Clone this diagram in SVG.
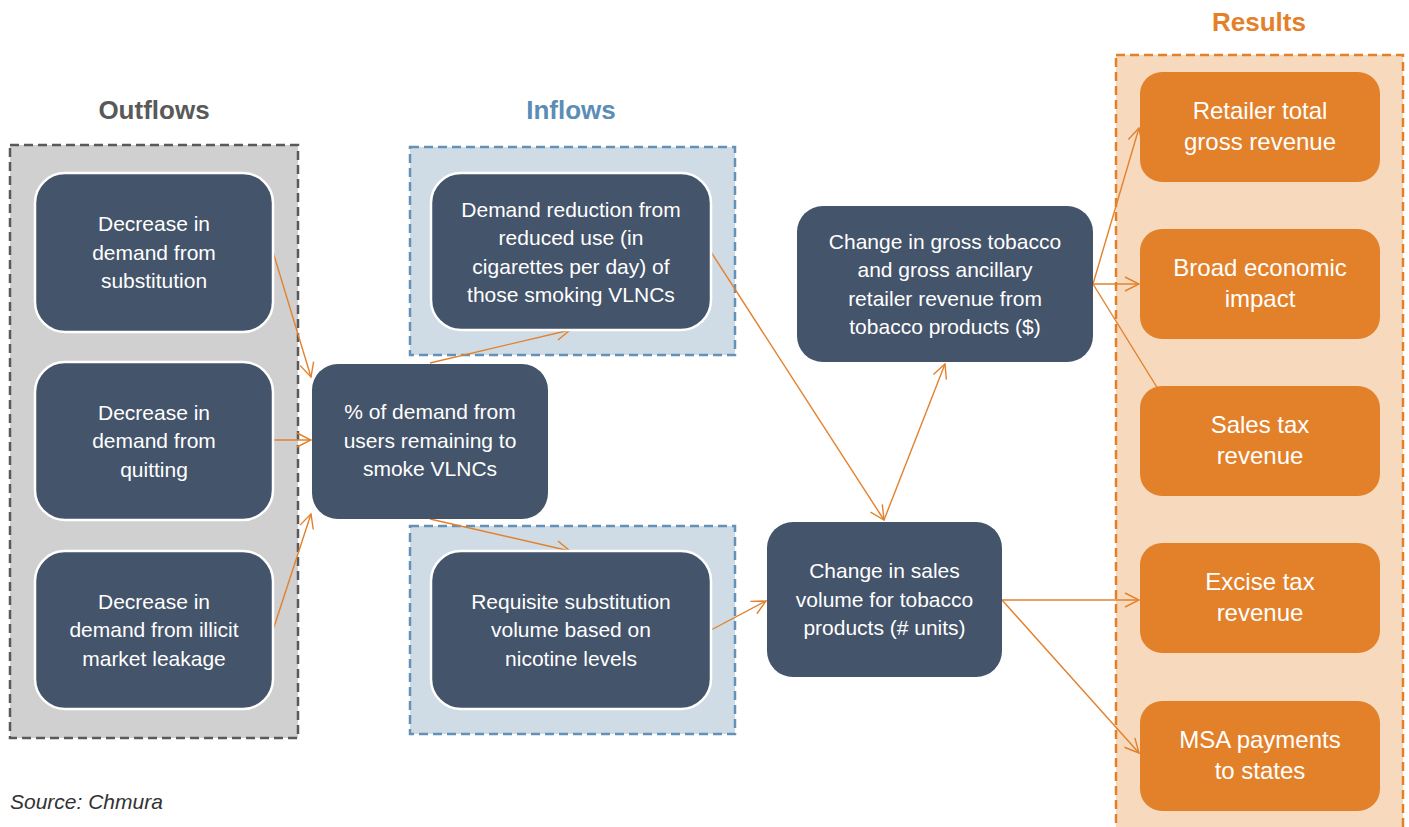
<svg xmlns="http://www.w3.org/2000/svg" width="1409" height="827" viewBox="0 0 1409 827">
<style>
text{font-family:"Liberation Sans",Arial,sans-serif}
.t{fill:#ffffff;font-size:21px;text-anchor:middle}
.r{fill:#ffffff;font-size:24px;text-anchor:middle}
.title{font-size:26px;font-weight:bold;text-anchor:middle}
.dark{fill:#44546a}
.darkw{fill:#44546a;stroke:#ffffff;stroke-width:2.5}
.res{fill:#e3812b}
.c{stroke:#e3812b;stroke-width:1.4;fill:none}
.ca{stroke:#e3812b;stroke-width:1.4;fill:none;marker-end:url(#ah)}
</style>
<defs>
<marker id="ah" markerUnits="userSpaceOnUse" markerWidth="16" markerHeight="16" viewBox="0 0 16 16" refX="15" refY="8" orient="auto">
<path d="M1,1 L15,8 L1,15" fill="none" stroke="#e3812b" stroke-width="1.4"/>
</marker>
</defs>
<rect width="1409" height="827" fill="#ffffff"/>
<g id="containers">
<rect x="10" y="145" width="288" height="593" fill="#d0d0d0" stroke="#595959" stroke-width="2.5" stroke-dasharray="9,5"/>
<rect x="410" y="147" width="325" height="208" fill="#cfdce6" stroke="#6391b8" stroke-width="2.5" stroke-dasharray="9,5"/>
<rect x="410" y="526" width="325" height="208" fill="#cfdce6" stroke="#6391b8" stroke-width="2.5" stroke-dasharray="9,5"/>
<rect x="1116" y="55" width="287" height="790" fill="#f7d9be" stroke="#e3812b" stroke-width="2.5" stroke-dasharray="9,5"/>
</g>
<g id="titles">
<text class="title" x="154" y="119" fill="#595959">Outflows</text>
<text class="title" x="571" y="119" fill="#5b8db5">Inflows</text>
<text class="title" x="1259" y="31" fill="#e3812b">Results</text>
<text x="10" y="809" font-size="21" font-style="italic" fill="#333333">Source: Chmura</text>
</g>
<g id="connectors">
<line class="ca" x1="273" y1="252" x2="311" y2="377"/>
<line class="ca" x1="273" y1="440" x2="311" y2="440"/>
<line class="ca" x1="273" y1="630" x2="311" y2="514"/>
<line class="ca" x1="430" y1="363" x2="570" y2="330"/>
<line class="ca" x1="430" y1="519" x2="570" y2="551"/>
<line class="ca" x1="711" y1="252" x2="884" y2="520"/>
<line class="ca" x1="711" y1="630" x2="766" y2="601"/>
<line class="ca" x1="884" y1="520" x2="945" y2="364"/>
<line class="ca" x1="1093" y1="284" x2="1139" y2="128"/>
<line class="ca" x1="1093" y1="284" x2="1139" y2="284"/>
<line class="c" x1="1093" y1="284" x2="1158" y2="389"/>
<line class="ca" x1="1002" y1="600" x2="1139" y2="600"/>
<line class="ca" x1="1002" y1="600" x2="1139" y2="753"/>
</g>
<g id="out1">
<rect class="darkw" x="35" y="173" width="238" height="159" rx="30"/>
<text class="t" x="154" y="231">Decrease in</text>
<text class="t" x="154" y="259.5">demand from</text>
<text class="t" x="154" y="288">substitution</text>
</g>
<g id="out2">
<rect class="darkw" x="35" y="362" width="238" height="158" rx="30"/>
<text class="t" x="154" y="419.5">Decrease in</text>
<text class="t" x="154" y="448">demand from</text>
<text class="t" x="154" y="476.5">quitting</text>
</g>
<g id="out3">
<rect class="darkw" x="35" y="551" width="238" height="158" rx="30"/>
<text class="t" x="154" y="608.5">Decrease in</text>
<text class="t" x="154" y="637">demand from illicit</text>
<text class="t" x="154" y="665.5">market leakage</text>
</g>
<g id="remaining">
<rect class="dark" x="312" y="364" width="236" height="155" rx="26"/>
<text class="t" x="430" y="419">% of demand from</text>
<text class="t" x="430" y="447.5">users remaining to</text>
<text class="t" x="430" y="476">smoke VLNCs</text>
</g>
<g id="reduced-use">
<rect class="darkw" x="431" y="173" width="280" height="157" rx="30"/>
<text class="t" x="571" y="216.5">Demand reduction from</text>
<text class="t" x="571" y="245">reduced use (in</text>
<text class="t" x="571" y="273.5">cigarettes per day) of</text>
<text class="t" x="571" y="302">those smoking VLNCs</text>
</g>
<g id="substitution-volume">
<rect class="darkw" x="431" y="551" width="280" height="158" rx="30"/>
<text class="t" x="571" y="608.5">Requisite substitution</text>
<text class="t" x="571" y="637">volume based on</text>
<text class="t" x="571" y="665.5">nicotine levels</text>
</g>
<g id="gross-revenue">
<rect class="dark" x="797" y="206" width="296" height="156" rx="26"/>
<text class="t" x="945" y="248.5">Change in gross tobacco</text>
<text class="t" x="945" y="277">and gross ancillary</text>
<text class="t" x="945" y="305.5">retailer revenue from</text>
<text class="t" x="945" y="334">tobacco products ($)</text>
</g>
<g id="sales-volume">
<rect class="dark" x="767" y="522" width="235" height="155" rx="26"/>
<text class="t" x="884.5" y="578">Change in sales</text>
<text class="t" x="884.5" y="606.5">volume for tobacco</text>
<text class="t" x="884.5" y="635">products (# units)</text>
</g>
<g id="retailer">
<rect class="res" x="1140" y="72" width="240" height="110" rx="22"/>
<text class="r" x="1260" y="119">Retailer total</text>
<text class="r" x="1260" y="150">gross revenue</text>
</g>
<g id="broad">
<rect class="res" x="1140" y="229" width="240" height="110" rx="22"/>
<text class="r" x="1260" y="276">Broad economic</text>
<text class="r" x="1260" y="307">impact</text>
</g>
<g id="salestax">
<rect class="res" x="1140" y="386" width="240" height="110" rx="22"/>
<text class="r" x="1260" y="433">Sales tax</text>
<text class="r" x="1260" y="464">revenue</text>
</g>
<g id="excise">
<rect class="res" x="1140" y="543" width="240" height="110" rx="22"/>
<text class="r" x="1260" y="590">Excise tax</text>
<text class="r" x="1260" y="621">revenue</text>
</g>
<g id="msa">
<rect class="res" x="1140" y="701" width="240" height="110" rx="22"/>
<text class="r" x="1260" y="748">MSA payments</text>
<text class="r" x="1260" y="779">to states</text>
</g>
</svg>
